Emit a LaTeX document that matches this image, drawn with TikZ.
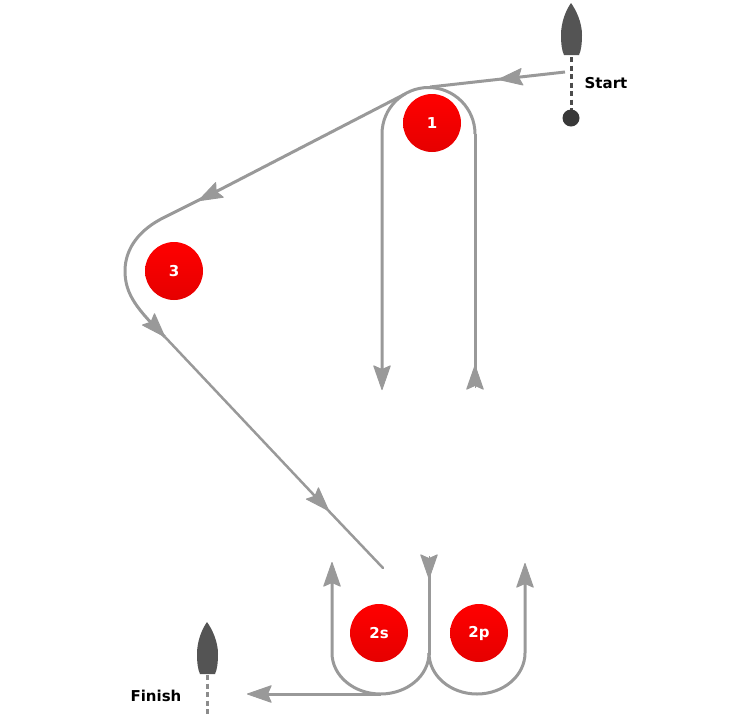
\documentclass[tikz,border=0pt]{standalone}
\usepackage{fontspec}
\setmainfont{DejaVu Sans}
\usetikzlibrary{arrows.meta}
\tikzset{
  course tip/.tip={Stealth[length=26pt, width=18pt, inset=4pt, line width=1pt, round]},
  course/.style={line width=3pt, color=black!40},
  tip only/.style={course, line width=0.1pt},
  buoy/.style={circle, minimum size=58pt, inner sep=0pt, top color=red, bottom color=red!90!black, text=white, font=\fontsize{15}{18}\selectfont\bfseries},
  caption/.style={font=\fontsize{15}{18}\selectfont\bfseries},
  boat/.pic={\fill [black!67] (0,-52) .. controls (-5,-45) and (-10,-33) .. (-10,-20) .. controls (-10,-11) and (-9,-4) .. (-7,0) -- (8,0) .. controls (10,-4) and (11,-11) .. (11,-20) .. controls (11,-33) and (5,-45) .. (0,-52) -- cycle;}
}
\begin{document}
\begin{tikzpicture}[x=1pt, y=-1pt]
   \useasboundingbox (0,0) rectangle (750,716);
   % buoys
   \node [buoy] (b1) at (432,123) {1};
   \node [buoy] (b3) at (174,271) {3};
   \node [buoy] (b2s) at (379,633) {2s};
   \node [buoy] (b2p) at (479,633) {2p};
   % boats
   \pic at (571,55) {boat};
   \pic at (207,674) {boat};
   \draw [line width=3pt, dash pattern=on 5pt off 3.5pt, black!70] (571,57) -- (571,112);
   \fill [black!78] (571,118) circle [radius=8.5];
   \draw [line width=3pt, dash pattern=on 5pt off 3.5pt, black!45] (207,675) -- (207,716);
   \node [caption] (start) at (606,83) {Start};
   \node [caption] (finish) at (156,696) {Finish};
   % round buoy 1
   \draw [tip only, -{course tip}] (475,388) -- (475,365);
   \draw [course] (475,372) -- (475,134);
   \draw [course, -{course tip}] (475,134) arc [start angle=0, end angle=-180, radius=46.5] -- (382,390);
   % to buoy 3 and down to the gate
   \draw [course, -{course tip}] (565,72) -- (498,79.5);
   \draw [course] (515,77.5) -- (430,87);
   \draw [course, -{course tip}] (405,94) -- (198,201);
   \draw [course] (205,197) -- (165,217) .. controls (140,229) and (125,248) .. (125,271) .. controls (125,295) and (138,310) .. (165,337);
   \draw [tip only, -{course tip}] (150,321) -- (165,337);
   \draw [course, line width=2.5pt, -{course tip}] (165,337) -- (329,511);
   \draw [course, line width=2.5pt, line cap=round] (325,507) -- (383,568);
   % gate
   \draw [tip only, -{course tip}] (429,556) -- (429,579);
   \draw [course] (429,572) -- (429,655);
   \draw [course, -{course tip}] (429,653) arc [start angle=0, end angle=180, x radius=48.5, y radius=41] -- (332,562);
   \draw [course, -{course tip}] (429,653) arc [start angle=180, end angle=0, x radius=48, y radius=41] -- (525,563);
   \draw [course, -{course tip}] (381,694) -- (247,694);
\end{tikzpicture}
\end{document}
